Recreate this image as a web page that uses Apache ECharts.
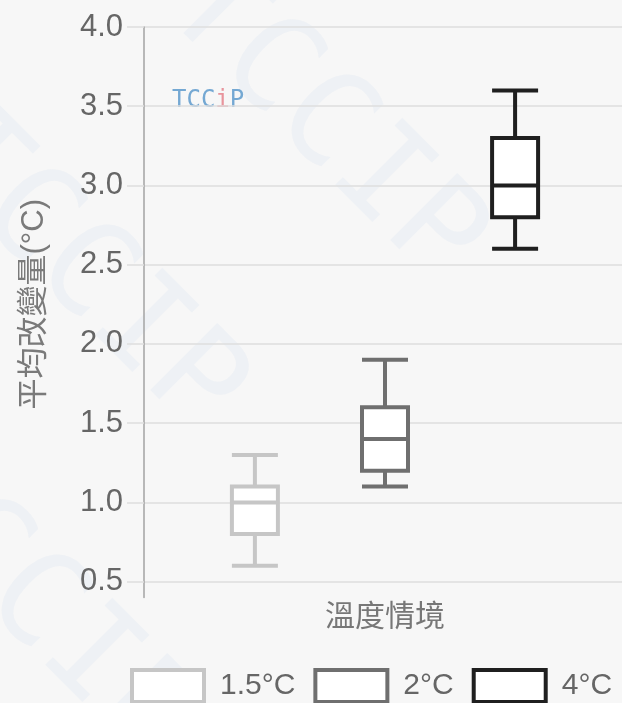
<!DOCTYPE html>
<html>
<head>
<meta charset="utf-8">
<script src="https://cdn.jsdelivr.net/npm/echarts@6/dist/echarts.min.js"></script>
<style>
  html, body { margin: 0; padding: 0; background: #f7f7f7; }
  #chart { width: 622px; height: 703px; }
</style>
</head>
<body>
<div id="chart"></div>
<script>
// 溫度情境 -> 平均改變量 box summaries [min, Q1, median, Q3, max]
const categories = ['溫度情境']
const scenarios = ['1.5°C', '2°C', '4°C']
const box15 = [0.6, 0.8, 1.0, 1.1, 1.3]
const box20 = [1.1, 1.2, 1.4, 1.6, 1.9]
const box40 = [2.6, 2.8, 3.0, 3.3, 3.6]
const boxes = [box15, box20, box40]

const colors = ['#c6c6c6', '#6f6f6f', '#1f1f1f']
const font = '"Liberation Sans", Arial, "Noto Sans CJK TC", sans-serif'
const gridColor = '#dedede'

const chart = echarts.init(document.getElementById('chart'))

const series = scenarios.map((name, i) => ({
  name: name,
  type: 'boxplot',
  xAxisIndex: 1,
  yAxisIndex: 1,
  boxWidth: [7, 46],
  data: [boxes[i]],
  itemStyle: { color: '#fff', borderColor: colors[i], borderWidth: 4 },
  emphasis: { disabled: true }
}))

// faint diagonal watermark
const mark = (x, y) => ({
  type: 'text',
  x: x,
  y: y,
  rotation: -Math.PI / 4,
  silent: true,
  z: -10,
  style: {
    text: 'TCCIP',
    fontSize: 130,
    fontFamily: '"DejaVu Sans Mono", monospace',
    fill: 'rgba(190, 212, 235, 0.16)'
  }
})

const option = {
  backgroundColor: '#f7f7f7',
  animation: false,
  textStyle: { fontFamily: font },
  graphic: [
    mark(230, -60),
    mark(-10, 90),
    mark(-60, 420),
    {
      type: 'text',
      left: 172,
      top: 89,
      style: {
        text: '{b|TCC}{r|i}{b|P}',
        rich: {
          b: { fontFamily: '"DejaVu Sans Mono", monospace', fontSize: 24, fill: '#74a8d3' },
          r: { fontFamily: '"DejaVu Sans Mono", monospace', fontSize: 24, fill: '#e8949c' }
        }
      }
    }
  ],
  legend: {
    data: scenarios,
    left: 130,
    top: 668,
    padding: 0,
    itemWidth: 72,
    itemHeight: 32,
    itemGap: 18,
    icon: 'rect',
    itemStyle: { color: '#fff', borderWidth: 4 },
    textStyle: { color: '#666', fontSize: 30, fontFamily: font, padding: [0, 0, 0, 11] }
  },
  grid: [
    // grid lines, labels
    { left: 144, right: -4, top: 27, bottom: 121.5 },
    // boxes
    { left: 162, right: 14, top: 27, bottom: 105.5 }
  ],
  xAxis: [
    {
      gridIndex: 0,
      type: 'category',
      data: categories,
      show: false
    },
    {
      gridIndex: 1,
      type: 'category',
      data: categories,
      name: categories[0],
      nameLocation: 'middle',
      nameGap: 5,
      nameTextStyle: { color: '#777', fontSize: 30, fontFamily: font, verticalAlign: 'top' },
      axisLine: { show: false },
      axisTick: { show: false },
      axisLabel: { show: false },
      splitLine: { show: false }
    }
  ],
  yAxis: [
    {
      gridIndex: 0,
      type: 'value',
      min: 0.5,
      max: 4.0,
      interval: 0.5,
      name: '平均改變量(°C)',
      nameLocation: 'middle',
      nameGap: 94,
      nameTextStyle: { color: '#7a7a7a', fontSize: 31, fontFamily: font },
      axisLine: { show: false },
      axisTick: { show: true, length: 17, lineStyle: { color: gridColor, width: 1.5 } },
      axisLabel: {
        color: '#666',
        fontSize: 31,
        margin: 21,
        formatter: v => v.toFixed(1)
      },
      splitLine: { show: true, lineStyle: { color: gridColor, width: 1.5 } }
    },
    {
      gridIndex: 1,
      type: 'value',
      min: 0.4,
      max: 4.0,
      offset: 18,
      axisLine: { show: true, onZero: false, lineStyle: { color: '#a3a3a3', width: 1.5 } },
      axisTick: { show: false },
      axisLabel: { show: false },
      splitLine: { show: false }
    }
  ],
  series: series
}

chart.setOption(option)
</script>
</body>
</html>
